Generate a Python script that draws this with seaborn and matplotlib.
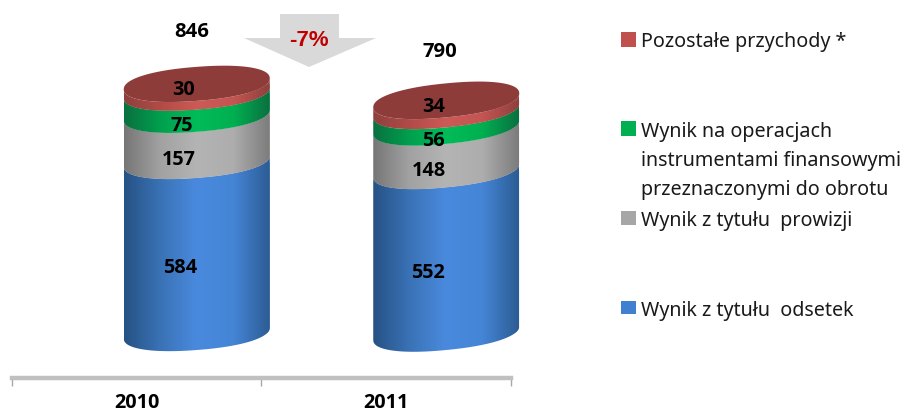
import numpy as np
import pandas as pd
import matplotlib
matplotlib.use("Agg")
import matplotlib.pyplot as plt
from matplotlib.patches import Polygon, Rectangle
from matplotlib.colors import LinearSegmentedColormap
import seaborn as sns

years = ["2010", "2011"]
series_names = ["Wynik z tytułu  odsetek", "Wynik z tytułu  prowizji",
                "Wynik na operacjach\ninstrumentami finansowymi\nprzeznaczonymi do obrotu",
                "Pozostałe przychody *"]
odsetki = [584, 552]
prowizje = [157, 148]
operacje = [75, 56]
pozostale = [30, 34]
totals = [846, 790]
change_label = "-7%"

series = [odsetki, prowizje, operacje, pozostale]
swatch = ["#4180d0", "#a6a6a6", "#00b050", "#c0504d"]
ramps = [
    ["#265284", "#3a72b6", "#4a8ade", "#4585d6", "#2c5c94"],
    ["#767676", "#a2a2a2", "#b4b4b4", "#adadad", "#7c7c7c"],
    ["#0a7040", "#00a04e", "#00bc58", "#00b050", "#0a7040"],
    ["#8e403d", "#b24b48", "#cc5a56", "#c45552", "#8e403d"],
]

sns.set_theme(style="white")
W, H = 904, 412
fig = plt.figure(figsize=(W / 100, H / 100), dpi=100, facecolor="white")
AX_L, AX_R, AX_B = 12, 531, 378
ax = fig.add_axes([AX_L / W, (H - AX_B) / H, (AX_R - AX_L) / W, AX_B / H])
PX_PER_UNIT = 0.2945
BASE_PX = 333
ymin, ymax = -(AX_B - BASE_PX) / PX_PER_UNIT, BASE_PX / PX_PER_UNIT
xlim = (-0.5, 1.5 + 20 / 249.5)
shift = 60 / 249.5
b_px = 17.0
tilts = [5.5, 7.0]
SQUARE = 0.9

bottoms = np.zeros(2)
for vals, col in zip(series, swatch):
    df = pd.DataFrame({"year": years, "value": vals})
    sns.barplot(data=df, x="year", y="value", color=col, bottom=bottoms,
                width=146 / 249.5, saturation=1, ax=ax, errorbar=None)
    bottoms = bottoms + np.array(vals)

t_low = np.linspace(np.pi, 2 * np.pi, 120)
t_all = np.linspace(0, 2 * np.pi, 240)


def rim(cx, hw, level, tilt, t):
    c = np.sign(np.cos(t)) * np.abs(np.cos(t)) ** SQUARE
    s = np.sign(np.sin(t)) * np.abs(np.sin(t)) ** SQUARE
    xs = cx + hw * c
    ys = level + (b_px * s + tilt * c) / PX_PER_UNIT
    return np.column_stack([xs, ys])


for cont, ramp in zip(ax.containers, ramps):
    cmap = LinearSegmentedColormap.from_list("r", ramp)
    for i, bar in enumerate(cont):
        bar.set_x(bar.get_x() + shift)
        hw = bar.get_width() / 2
        cx = bar.get_x() + hw
        lo, hi = bar.get_y(), bar.get_y() + bar.get_height()
        pts = np.vstack([rim(cx, hw, lo, tilts[i], t_low),
                         rim(cx, hw, hi, tilts[i], t_low)[::-1]])
        clip = Polygon(pts, closed=True, transform=ax.transData,
                       fc="none", ec="none", clip_on=False)
        ax.add_patch(clip)
        bar.set_clip_path(clip)
        im = ax.imshow(np.linspace(0, 1, 256)[None, :], cmap=cmap, aspect="auto",
                       extent=(cx - hw, cx + hw, ymin, ymax), zorder=2)
        im.set_clip_path(clip)

for i, bar in enumerate(ax.containers[-1]):
    hw = bar.get_width() / 2
    cx = bar.get_x() + hw
    top = bar.get_y() + bar.get_height()
    ax.add_patch(Polygon(rim(cx, hw, top, tilts[i], t_all), closed=True,
                         fc="#8e3c39", ec="none", zorder=3, clip_on=False))

ax.set_xlim(*xlim)
ax.set_ylim(ymin, ymax)
ax.set_xlabel("")
ax.set_ylabel("")
ax.set_yticks([])
for s in ("top", "left", "right"):
    ax.spines[s].set_visible(False)
ax.spines["bottom"].set_color("#c0c0c0")
ax.spines["bottom"].set_linewidth(3.2)
ax.spines["bottom"].set_bounds(-0.5, 1.5)
ax.set_xticks([-0.5, 0.5, 1.5], minor=True)
ax.tick_params(axis="x", which="minor", bottom=True, length=6, width=1,
               color="#a8a8a8", direction="out")
ax.tick_params(axis="x", which="major", bottom=False, pad=4.5, labelsize=14.3,
               labelcolor="black")
for lab in ax.get_xticklabels():
    lab.set_fontfamily("Open Sans")
    lab.set_fontweight("bold")

# value labels
lab_dx = [[-17, -18, -15, -13], [-18, -17, -13, -13]]
lab_dy = [-21, -22, -22, -2]
for j, cont in enumerate(ax.containers):
    for i, bar in enumerate(cont):
        cx = bar.get_x() + bar.get_width() / 2
        mid = bar.get_y() + bar.get_height() / 2
        ax.annotate(str(series[j][i]), (cx, mid),
                    xytext=(lab_dx[i][j], lab_dy[j]), textcoords="offset pixels",
                    ha="center", va="center", fontsize=14.3, fontweight="bold",
                    family="Open Sans", color="black", zorder=6, annotation_clip=False)
total_offs = [(-5, 52), (-6, 48)]
for i, bar in enumerate(ax.containers[-1]):
    cx = bar.get_x() + bar.get_width() / 2
    ax.annotate(str(totals[i]), (cx, totals[i]), xytext=total_offs[i],
                textcoords="offset pixels", ha="center", va="center",
                fontsize=14.6, fontweight="bold", family="Open Sans", color="black")


def fx(px):
    return px / W


def fy(py):
    return 1 - py / H


arrow_px = [(280, 14), (339, 14), (339, 38), (376, 38), (309, 67), (244, 38), (280, 38)]
fig.add_artist(Polygon([(fx(a), fy(b)) for a, b in arrow_px], closed=True,
                       transform=fig.transFigure, fc="#d9d9d9", ec="none", zorder=5))
fig.text(fx(309), fy(41), change_label, color="#c00000", fontsize=16, fontweight="bold",
         family="Liberation Sans", ha="center", va="center", zorder=6)

# legend
swatch_boxes = {3: (32, 15), 2: (121, 15), 1: (211, 14), 0: (301, 13)}
text_y = {3: 42, 2: 161, 1: 221, 0: 311}
for k, name in enumerate(series_names):
    top, h = swatch_boxes[k]
    fig.add_artist(Rectangle((fx(621), fy(top + h)), 15 / W, h / H,
                             transform=fig.transFigure, fc=swatch[k], ec="none"))
    fig.text(fx(641), fy(text_y[k]), name, fontsize=14.2, family="Noto Sans",
             color="#1a1a1a", ha="left", va="center", linespacing=1.6)

fig.savefig("out.png", dpi=100, facecolor="white")
